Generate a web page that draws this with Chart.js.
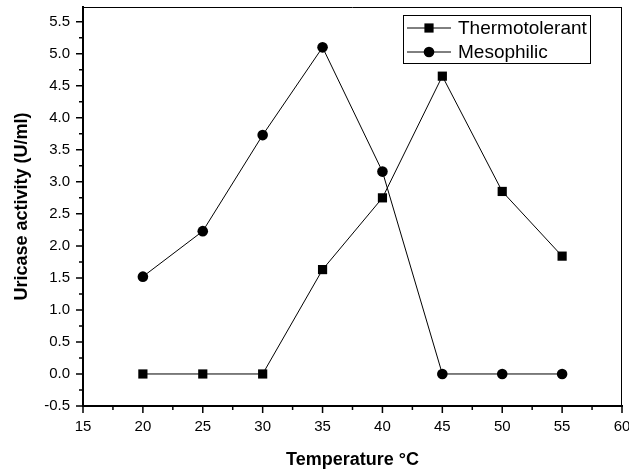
<!DOCTYPE html>
<html>
<head>
<meta charset="utf-8">
<script src="https://cdn.jsdelivr.net/npm/chart.js@4/dist/chart.umd.min.js"></script>
<style>
html,body{margin:0;padding:0;background:#fff;}
#wrap{width:629px;height:474px;}
</style>
</head>
<body>
<div id="wrap"><canvas id="c" width="629" height="474"></canvas></div>
<script>
const temperatures = [20, 25, 30, 35, 40, 45, 50, 55];
const thermotolerant = [0, 0, 0, 1.63, 2.75, 4.65, 2.85, 1.84];
const mesophilic = [1.52, 2.23, 3.73, 5.1, 3.16, 0, 0, 0];
const seriesNames = ['Thermotolerant', 'Mesophilic'];
const xTickValues = [15, 20, 25, 30, 35, 40, 45, 50, 55, 60];
const yTickValues = [-0.5, 0, 0.5, 1, 1.5, 2, 2.5, 3, 3.5, 4, 4.5, 5, 5.5];
const xTitle = 'Temperature °C';
const yTitle = 'Uricase activity (U/ml)';

const FONT = "'Liberation Sans', Arial, sans-serif";

function zeroPad(s) { s.paddingTop = 0; s.paddingBottom = 0; s.paddingLeft = 0; s.paddingRight = 0; }

const framePlugin = {
  id: 'frame',
  afterDraw(chart) {
    const ctx = chart.ctx;
    const a = chart.chartArea;
    const xs = chart.scales.x, ys = chart.scales.y;
    ctx.save();
    ctx.strokeStyle = '#000';
    // top and right border
    ctx.lineWidth = 1;
    ctx.beginPath();
    ctx.moveTo(a.left, a.top + 0.5);
    ctx.lineTo(a.right, a.top + 0.5);
    ctx.moveTo(a.right - 0.5, a.top);
    ctx.lineTo(a.right - 0.5, a.bottom);
    ctx.stroke();
    // ticks
    ctx.lineWidth = 1.5;
    ctx.beginPath();
    for (let i = 0; i < yTickValues.length; i++) {
      const py = ys.getPixelForValue(yTickValues[i]);
      ctx.moveTo(a.left, py); ctx.lineTo(a.left - 7, py);
      if (i < yTickValues.length - 1) {
        const pm = ys.getPixelForValue((yTickValues[i] + yTickValues[i + 1]) / 2);
        ctx.moveTo(a.left, pm); ctx.lineTo(a.left - 4, pm);
      }
    }
    for (let i = 0; i < xTickValues.length; i++) {
      const px = xs.getPixelForValue(xTickValues[i]);
      ctx.moveTo(px, a.bottom); ctx.lineTo(px, a.bottom + 7);
      if (i < xTickValues.length - 1) {
        const pm = xs.getPixelForValue((xTickValues[i] + xTickValues[i + 1]) / 2);
        ctx.moveTo(pm, a.bottom); ctx.lineTo(pm, a.bottom + 4);
      }
    }
    ctx.stroke();
    // legend
    const bx = 403, by = 15, bw = 187, bh = 48;
    ctx.lineWidth = 1;
    ctx.strokeRect(bx + 0.5, by + 0.5, bw, bh);
    chart.data.datasets.forEach((ds, i) => {
      const cy = by + 13 + i * 24;
      ctx.beginPath();
      ctx.lineWidth = 1;
      ctx.moveTo(bx + 4, cy); ctx.lineTo(bx + 48, cy);
      ctx.stroke();
      Chart.helpers.drawPoint(ctx, {pointStyle: ds.pointStyle, radius: ds.pointRadius, borderWidth: 0}, bx + 26, cy);
      ctx.fillStyle = '#000';
      ctx.font = '19px ' + FONT;
      ctx.textBaseline = 'middle';
      ctx.textAlign = 'left';
      ctx.fillText(ds.label, bx + 55, cy + 1);
    });
    ctx.restore();
  }
};

new Chart(document.getElementById('c'), {
  type: 'line',
  data: {
    datasets: [
      {
        label: seriesNames[0],
        data: temperatures.map((t, i) => ({x: t, y: thermotolerant[i]})),
        borderColor: '#000', backgroundColor: '#000', borderWidth: 1,
        pointStyle: 'rect', pointRadius: 6.5, pointBorderWidth: 0,
        pointBackgroundColor: '#000', tension: 0
      },
      {
        label: seriesNames[1],
        data: temperatures.map((t, i) => ({x: t, y: mesophilic[i]})),
        borderColor: '#000', backgroundColor: '#000', borderWidth: 1,
        pointStyle: 'circle', pointRadius: 5.3, pointBorderWidth: 0,
        pointBackgroundColor: '#000', tension: 0
      }
    ]
  },
  options: {
    responsive: false,
    animation: false,
    layout: {padding: {left: 0, top: 7, right: 7, bottom: 0}},
    plugins: {legend: {display: false}, tooltip: {enabled: false}},
    scales: {
      x: {
        type: 'linear',
        min: 15, max: 60,
        afterFit(s) { s.height = 68; zeroPad(s); },
        afterBuildTicks(s) { s.ticks = xTickValues.map(v => ({value: v})); },
        grid: {display: true, drawOnChartArea: false, drawTicks: false},
        border: {display: true, color: '#000', width: 2},
        ticks: {color: '#000', padding: 12, maxRotation: 0, autoSkip: false,
          font: {family: FONT, size: 15}, callback: v => String(v)},
        title: {display: true, text: xTitle, color: '#000',
          font: {family: FONT, size: 18, weight: 'bold'}, padding: {top: 0, bottom: 3}}
      },
      y: {
        type: 'linear',
        min: -0.5, max: 5.73,
        afterFit(s) { s.width = 83; zeroPad(s); },
        afterBuildTicks(s) { s.ticks = yTickValues.map(v => ({value: v})); },
        grid: {display: true, drawOnChartArea: false, drawTicks: false},
        border: {display: true, color: '#000', width: 2},
        ticks: {color: '#000', padding: 13, autoSkip: false,
          font: {family: FONT, size: 15}, callback: v => Number(v).toFixed(1)},
        title: {display: true, text: yTitle, color: '#000',
          font: {family: FONT, size: 18, weight: 'bold'}, padding: {top: 11, bottom: 0}}
      }
    }
  },
  plugins: [framePlugin]
});
</script>
</body>
</html>
